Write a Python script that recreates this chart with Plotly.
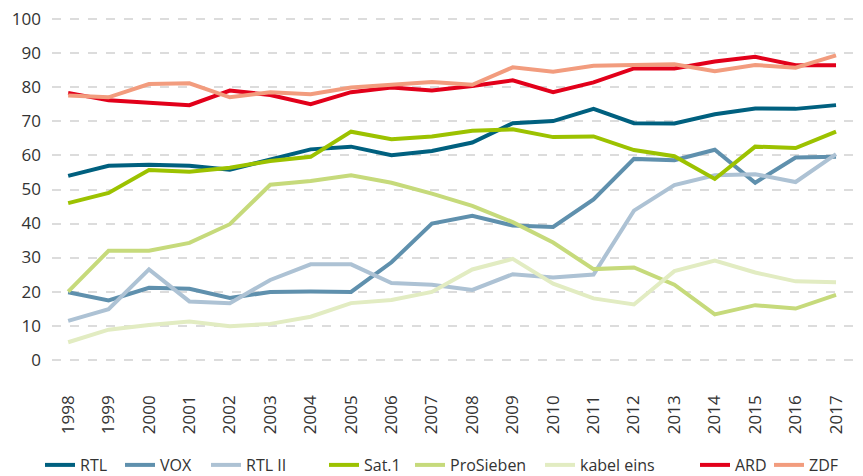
import plotly.graph_objects as go

years = list(range(1998, 2018))
year_labels = [str(y) for y in years]

rtl = [54.0, 57.0, 57.3, 57.0, 55.8, 58.8, 61.8, 62.6, 60.1, 61.3, 63.8, 69.5, 70.1, 73.7, 69.5, 69.4, 72.1, 73.8, 73.7, 74.8]
vox = [19.8, 17.4, 21.1, 20.8, 18.1, 19.9, 20.0, 19.9, 28.6, 40.0, 42.3, 39.4, 39.0, 47.1, 59.0, 58.6, 61.7, 52.0, 59.4, 59.6]
rtl2 = [11.4, 14.8, 26.5, 17.1, 16.6, 23.4, 28.0, 28.0, 22.5, 22.0, 20.5, 25.1, 24.1, 25.0, 43.8, 51.3, 54.2, 54.5, 52.2, 60.4]
sat1 = [46.0, 49.0, 55.7, 55.2, 56.4, 58.4, 59.6, 67.0, 64.8, 65.6, 67.3, 67.7, 65.4, 65.6, 61.6, 59.8, 53.1, 62.6, 62.2, 67.0]
pro7 = [20.0, 32.0, 32.0, 34.3, 39.8, 51.4, 52.5, 54.2, 52.0, 48.8, 45.2, 40.4, 34.4, 26.6, 27.1, 22.0, 13.3, 16.0, 15.0, 19.0]
kabel1 = [5.1, 8.8, 10.2, 11.2, 9.8, 10.5, 12.6, 16.6, 17.5, 19.9, 26.5, 29.6, 22.3, 18.0, 16.2, 26.0, 29.1, 25.6, 23.0, 22.7]
ard = [78.4, 76.2, 75.5, 74.8, 79.1, 77.8, 75.1, 78.6, 80.0, 79.1, 80.4, 82.1, 78.6, 81.5, 85.6, 85.6, 87.6, 89.0, 86.5, 86.5]
zdf = [77.6, 77.1, 81.0, 81.2, 77.1, 78.6, 78.0, 80.0, 80.8, 81.6, 80.8, 85.9, 84.6, 86.4, 86.6, 86.8, 84.8, 86.6, 85.8, 89.4]

series = [
    ("RTL", rtl, "#00607f"),
    ("VOX", vox, "#5f90ad"),
    ("RTL II", rtl2, "#adc2d4"),
    ("Sat.1", sat1, "#9cc200"),
    ("ProSieben", pro7, "#c6da7b"),
    ("kabel eins", kabel1, "#e2ecc2"),
    ("ARD", ard, "#e2001a"),
    ("ZDF", zdf, "#f29c7e"),
]

# legend entry text start positions (pixels in the 863-wide page)
legend_text_x = [80, 160, 246, 364, 450, 580, 735, 809]

W, H = 863, 476
fig = go.Figure()
layout_legends = {}
for i, (name, vals, col) in enumerate(series):
    lname = "legend" if i == 0 else f"legend{i+1}"
    fig.add_trace(go.Scatter(
        x=years, y=vals, name=name, mode="lines",
        line=dict(color=col, width=4),
        legend=lname,
    ))
    layout_legends[lname] = dict(
        xref="container", yref="container",
        x=(legend_text_x[i] - 40) / W, xanchor="left",
        y=(H - 465) / H, yanchor="middle",
        bgcolor="rgba(0,0,0,0)", borderwidth=0,
        font=dict(family="Open Sans, Noto Sans, sans-serif", size=16, color="#333333"),
        orientation="h",
    )

fig.update_layout(
    width=W, height=H,
    margin=dict(l=52, r=10, t=16, b=113, autoexpand=False),
    paper_bgcolor="white", plot_bgcolor="white",
    font=dict(family="Open Sans, Noto Sans, sans-serif", size=17, color="#333333"),
    showlegend=True,
    xaxis=dict(
        range=[1997.6, 2017.42],
        tickmode="array", tickvals=years, ticktext=year_labels,
        tickangle=-90, showgrid=False, zeroline=False, showline=False,
        ticks="", ticklabelstandoff=28,
        tickfont=dict(size=17, color="#333333"),
    ),
    yaxis=dict(
        range=[-1, 101], tickmode="array", tickvals=list(range(0, 101, 10)),
        showgrid=True, gridcolor="#dcdcdc", gridwidth=2, griddash="dash",
        zeroline=False, showline=False, ticks="", ticklabelstandoff=10,
        tickfont=dict(size=17, color="#333333"),
    ),
    **layout_legends,
)

fig.write_html("out.html", config={"displayModeBar": False},
               post_script="document.body.style.margin='0';")
